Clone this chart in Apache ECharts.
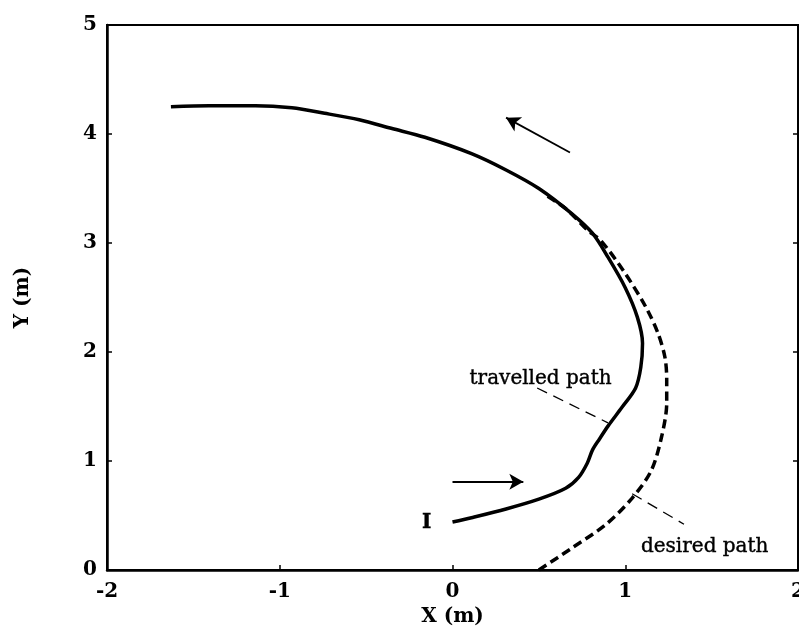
<!DOCTYPE html>
<html>
<head>
<meta charset="utf-8">
<script src="https://cdn.jsdelivr.net/npm/echarts@6/dist/echarts.min.js"></script>
<style>html,body{margin:0;padding:0;background:#fff}#c{width:799px;height:643px}</style>
</head>
<body>
<div id="c"></div>
<script>
// ---- data ----
var travelledX = [0.00, 0.11, 0.31, 0.50, 0.655, 0.73, 0.78, 0.81, 0.85, 0.90, 0.98, 1.06, 1.09, 1.10, 1.07, 1.00, 0.90, 0.81, 0.69, 0.50, 0.31, 0.11, -0.16, -0.35, -0.54, -0.74, -0.93, -1.14, -1.41, -1.63];
var travelledY = [0.44, 0.48, 0.56, 0.65, 0.75, 0.85, 0.98, 1.10, 1.20, 1.32, 1.49, 1.67, 1.86, 2.08, 2.32, 2.59, 2.87, 3.09, 3.27, 3.50, 3.67, 3.82, 3.97, 4.05, 4.13, 4.19, 4.24, 4.26, 4.26, 4.25];
var desiredX = [0.50, 0.69, 0.89, 1.04, 1.15, 1.21, 1.24, 1.24, 1.23, 1.19, 1.12, 1.00, 0.86, 0.78, 0.66, 0.55];
var desiredY = [0.00, 0.20, 0.42, 0.66, 0.91, 1.22, 1.53, 1.75, 1.95, 2.17, 2.41, 2.72, 3.02, 3.12, 3.31, 3.43];
var xTicks = [-2, -1, 0, 1, 2];
var yTicks = [0, 1, 2, 3, 4, 5];
// direction arrows: [x1, y1, x2, y2]
var arrows = [[0.00, 0.81, 0.41, 0.81], [0.68, 3.83, 0.31, 4.15]];
// leader lines: [x1, y1, x2, y2]
var leaderLines = [[0.49, 1.67, 0.90, 1.35], [1.04, 0.70, 1.34, 0.42]];
// annotation texts: [x, y, text]
var annotations = [[0.51, 1.75, 'travelled path'], [1.46, 0.21, 'desired path'], [-0.15, 0.43, 'I']];

function zip(a, b) { return a.map(function (v, i) { return [v, b[i]]; }); }

var chart = echarts.init(document.getElementById('c'), null, { renderer: 'canvas' });
var serif = 'DejaVu Serif';
var option = {
  backgroundColor: '#fff',
  animation: false,
  grid: {
    left: 107, right: 1, top: 25, bottom: 73, containLabel: false, outerBoundsMode: 'none',
    show: true, borderColor: '#000', borderWidth: 2, backgroundColor: 'transparent'
  },
  xAxis: {
    type: 'value', min: xTicks[0], max: xTicks[xTicks.length - 1], interval: 1,
    name: 'X (m)', nameLocation: 'middle', nameGap: 36,
    nameTextStyle: { fontFamily: serif, fontWeight: 'bold', fontSize: 20, color: '#000' },
    axisLine: { show: true, onZero: false, lineStyle: { color: '#000', width: 2.5 } },
    axisTick: { show: true, inside: true, length: 5, lineStyle: { color: '#000', width: 1.5 } },
    axisLabel: { fontFamily: serif, fontWeight: 'bold', fontSize: 20, color: '#000', margin: 12 },
    splitLine: { show: false }
  },
  yAxis: [{
    type: 'value', min: yTicks[0], max: yTicks[yTicks.length - 1], interval: 1,
    name: 'Y (m)', nameLocation: 'middle', nameGap: 74, nameRotate: 90,
    nameTextStyle: { fontFamily: serif, fontWeight: 'bold', fontSize: 20, color: '#000' },
    axisLine: { show: true, onZero: false, lineStyle: { color: '#000', width: 2.5 } },
    axisTick: { show: true, inside: true, length: 5, lineStyle: { color: '#000', width: 1.5 } },
    axisLabel: { fontFamily: serif, fontWeight: 'bold', fontSize: 20, color: '#000', margin: 10 },
    splitLine: { show: false }
  }, {
    type: 'value', min: yTicks[0], max: yTicks[yTicks.length - 1], interval: 1, position: 'right',
    axisLine: { show: true, onZero: false, lineStyle: { color: '#000', width: 1.5 } },
    axisTick: { show: true, inside: true, length: 5, lineStyle: { color: '#000', width: 1.5 } },
    axisLabel: { show: false }, splitLine: { show: false }
  }],
  series: [
    {
      name: 'desired path', type: 'line', data: zip(desiredX, desiredY), smooth: 0.3,
      showSymbol: false, symbol: 'none',
      lineStyle: { color: '#000', width: 3.5, type: [9, 5] }, z: 2
    },
    {
      name: 'travelled path', type: 'line', data: zip(travelledX, travelledY), smooth: 0.3,
      showSymbol: false, symbol: 'none',
      lineStyle: { color: '#000', width: 3.5 }, z: 3
    },
    {
      name: 'arrows', type: 'line', data: [], symbol: 'none',
      markLine: {
        silent: true, symbol: ['none', 'arrow'], symbolSize: [12, 14],
        label: { show: false },
        lineStyle: { color: '#000', width: 1.8, type: 'solid' },
        data: arrows.map(function (a) { return [{ coord: [a[0], a[1]] }, { coord: [a[2], a[3]] }]; })
      }
    },
    {
      name: 'leaders', type: 'line', data: [], symbol: 'none',
      markLine: {
        silent: true, symbol: ['none', 'none'],
        label: { show: false },
        lineStyle: { color: '#000', width: 1.3, type: [11, 7] },
        data: leaderLines.map(function (a) { return [{ coord: [a[0], a[1]] }, { coord: [a[2], a[3]] }]; })
      }
    },
    {
      name: 'labels', type: 'scatter', symbolSize: 0,
      itemStyle: { opacity: 1, color: '#000' },
      data: annotations.map(function (a) {
        var item = { value: [a[0], a[1]], name: a[2] };
        if (a[2] === 'I') item.label = { fontWeight: 'bold' };
        return item;
      }),
      label: {
        show: true, position: 'inside', formatter: '{b}', opacity: 1,
        fontFamily: serif, fontSize: 20, color: '#000', align: 'center', verticalAlign: 'middle',
        textBorderColor: '#000', textBorderWidth: 0.4
      },
      z: 5
    }
  ]
};
chart.setOption(option);
</script>
</body>
</html>
